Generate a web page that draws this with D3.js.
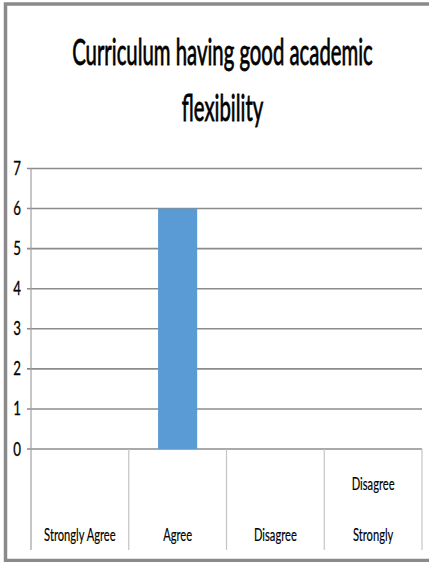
<!DOCTYPE html>
<html><head><meta charset="utf-8">
<script src="https://cdn.jsdelivr.net/npm/d3@7"></script>
<style>
html,body{margin:0;padding:0;background:#fff;}
svg{display:block;}
text{font-family:Lato,"Open Sans",sans-serif;fill:#000;}
</style></head>
<body>
<script>
const titleLines = ["Curriculum having good academic", "flexibility"];
const categories = ["Strongly Agree", "Agree", "Disagree", "Disagree Strongly"];
const categoryLabelLines = [["Strongly Agree"], ["Agree"], ["Disagree"], ["Disagree", "Strongly"]];
const values = [0, 6, 0, 0];
const yTicks = [0, 1, 2, 3, 4, 5, 6, 7];

const W = 429, H = 562;
const svg = d3.select("body").append("svg").attr("width", W).attr("height", H);

// frame
svg.append("rect").attr("x", 5.5).attr("y", 4).attr("width", W + 10).attr("height", 556.5)
  .attr("fill", "none").attr("stroke", "#8a8a8a").attr("stroke-width", 3.5);

const plot = {left: 31, right: 422, top: 168.5, bottom: 449};
const x = d3.scaleBand().domain(categories).range([plot.left, plot.right]).padding(0);
const y = d3.scaleLinear().domain([0, 7]).range([plot.bottom, plot.top]);

// horizontally compress text around its anchor point
function squeeze(sel, k) {
  sel.each(function() {
    const t = d3.select(this);
    const tx = +t.attr("x"), ty = +t.attr("y");
    t.attr("x", 0).attr("y", 0)
     .attr("transform", `translate(${tx},${ty}) scale(${k},1)`);
  });
}

// title
const title = svg.append("g");
title.selectAll("text").data(titleLines).join("text")
  .attr("x", (plot.left + plot.right) / 2 - 4)
  .attr("y", (d, i) => 65 + i * 56)
  .attr("text-anchor", "middle")
  .attr("font-size", 36)
  .attr("stroke", "#000").attr("stroke-width", 0.8)
  .text(d => d)
  .call(squeeze, 0.565);

// gridlines
svg.append("g").selectAll("line").data(yTicks).join("line")
  .attr("x1", plot.left - 4).attr("x2", plot.right)
  .attr("y1", d => y(d)).attr("y2", d => y(d))
  .attr("stroke", "#8c8c8c").attr("stroke-width", 1.6);

// y labels
svg.append("g").selectAll("text").data(yTicks).join("text")
  .attr("x", 17).attr("y", d => y(d) + 6.5)
  .attr("text-anchor", "middle")
  .attr("font-size", 19)
  .attr("stroke", "#000").attr("stroke-width", 0.3)
  .text(d => d)
  .call(squeeze, 0.7);

// category separators
const seps = categories.map(c => x(c)).concat([plot.right]);
svg.append("g").selectAll("line").data(seps).join("line")
  .attr("x1", d => d).attr("x2", d => d)
  .attr("y1", (d, i) => i === 0 ? plot.top : plot.bottom)
  .attr("y2", 550)
  .attr("stroke", (d, i) => i === 0 ? "#a0a0a0" : "#c4c4c4").attr("stroke-width", 1.2);

// bars
const bw = x.bandwidth() * 0.4;
svg.append("g").selectAll("rect").data(values).join("rect")
  .attr("x", (d, i) => x(categories[i]) + (x.bandwidth() - bw) / 2)
  .attr("y", d => y(d))
  .attr("width", bw)
  .attr("height", d => y(0) - y(d))
  .attr("fill", "#5b9bd5");

// category labels
const cl = svg.append("g");
categoryLabelLines.forEach((lines, i) => {
  const cx = x(categories[i]) + x.bandwidth() / 2;
  const n = lines.length;
  lines.forEach((t, j) => {
    cl.append("text")
      .attr("x", cx)
      .attr("y", 541 - (n - 1 - j) * 51)
      .attr("text-anchor", "middle")
      .attr("font-size", 18)
      .attr("stroke", "#000").attr("stroke-width", 0.2)
      .text(t)
      .call(squeeze, 0.62);
  });
});
</script>
</body></html>
